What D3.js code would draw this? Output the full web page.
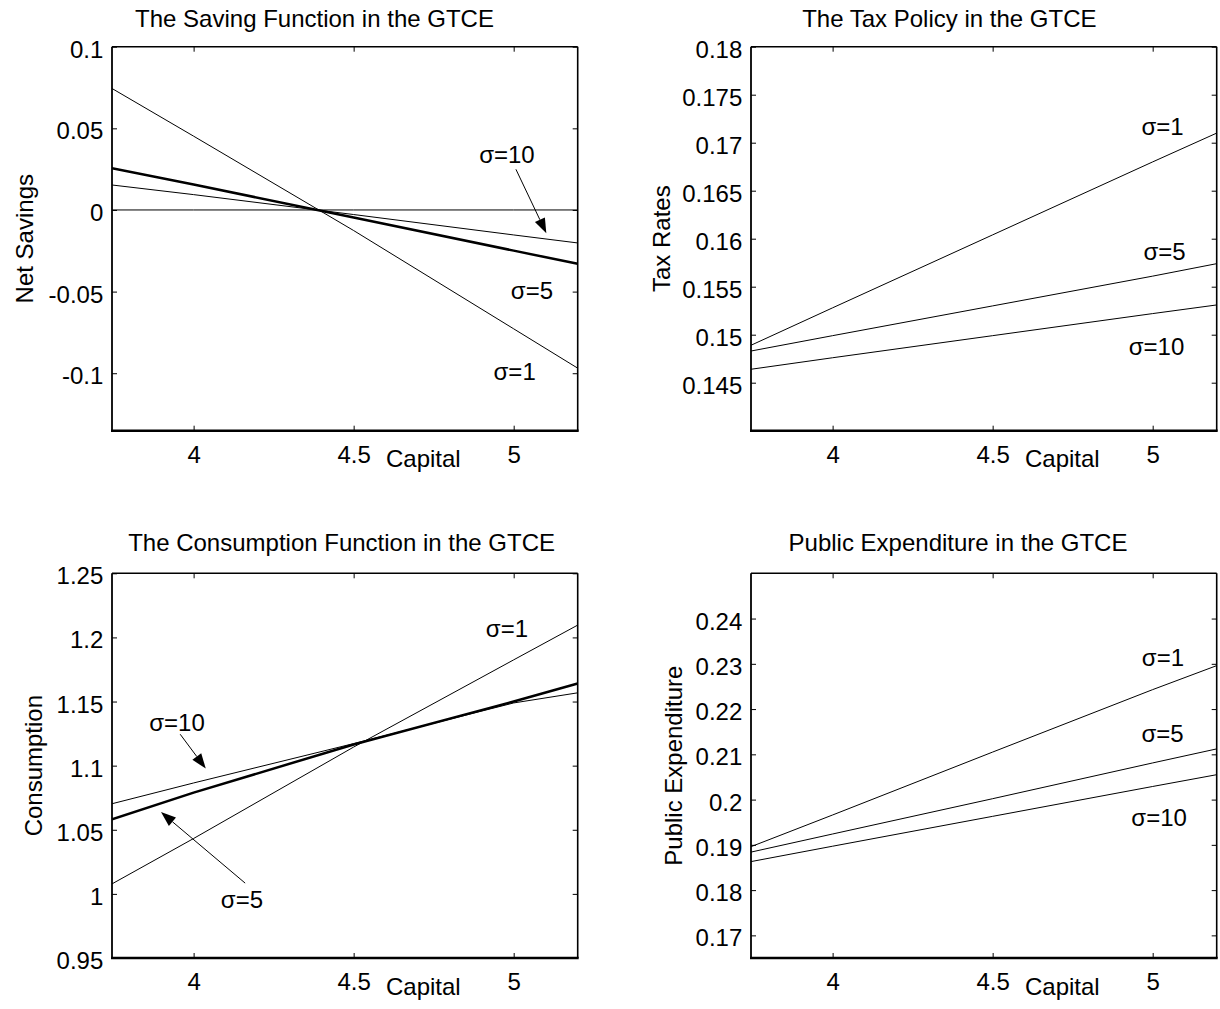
<!DOCTYPE html>
<html><head><meta charset="utf-8">
<script src="https://cdn.jsdelivr.net/npm/d3@7"></script>
<style>
body{margin:0;background:#fff}
svg{display:block}
text{font-family:"Liberation Sans",Arial,Helvetica,sans-serif;fill:#000}
</style>
</head><body>
<svg id="chart" width="1220" height="1009"></svg>
<script>
// ---------- data ----------
const capital = [3.745, 4.0, 4.5, 5.0, 5.2];
const xTicks = [4, 4.5, 5];
const xTickLabels = ["4", "4.5", "5"];

// Saving function
const savingZero    = [0, 0, 0, 0, 0];
const savingSigma1  = [0.0744, 0.0452, -0.0126, -0.0728, -0.0969];
const savingSigma5  = [0.0256, 0.0156, -0.0046, -0.0249, -0.0330];
const savingSigma10 = [0.0153, 0.0094, -0.0028, -0.0153, -0.0202];
const savingTicks = [-0.1, -0.05, 0, 0.05, 0.1];
const savingTickLabels = ["-0.1", "-0.05", "0", "0.05", "0.1"];

// Tax policy
const taxSigma1  = [0.1489, 0.1528, 0.1604, 0.1680, 0.1710];
const taxSigma5  = [0.1483, 0.1499, 0.1530, 0.1561, 0.1574];
const taxSigma10 = [0.1464, 0.1476, 0.1499, 0.1522, 0.1531];
const taxTicks = [0.145, 0.15, 0.155, 0.16, 0.165, 0.17, 0.175, 0.18];
const taxTickLabels = ["0.145", "0.15", "0.155", "0.16", "0.165", "0.17", "0.175", "0.18"];

// Consumption function
const consSigma1  = [1.0078, 1.0432, 1.1145, 1.1825, 1.2096];
const consSigma5  = [1.0581, 1.0790, 1.1165, 1.1500, 1.1641];
const consSigma10 = [1.0703, 1.0865, 1.1172, 1.1489, 1.1568];
const consTicks = [0.95, 1, 1.05, 1.1, 1.15, 1.2, 1.25];
const consTickLabels = ["0.95", "1", "1.05", "1.1", "1.15", "1.2", "1.25"];

// Public expenditure
const pubSigma1  = [0.1896, 0.1966, 0.2105, 0.2243, 0.2296];
const pubSigma5  = [0.1884, 0.1924, 0.2002, 0.2081, 0.2112];
const pubSigma10 = [0.1863, 0.1897, 0.1963, 0.2029, 0.2055];
const pubTicks = [0.17, 0.18, 0.19, 0.2, 0.21, 0.22, 0.23, 0.24];
const pubTickLabels = ["0.17", "0.18", "0.19", "0.2", "0.21", "0.22", "0.23", "0.24"];

const seriesNames = ["σ=1", "σ=5", "σ=10"];

// ---------- layout ----------
const FONT = 24;
const panels = [
  {
    left: 112, top: 46.7, width: 465.7, height: 384,
    xDomain: [3.745, 5.2], yDomain: [-0.1352, 0.1],
    yTicks: savingTicks, yTickLabels: savingTickLabels,
    title: "The Saving Function in the GTCE", titleX: 314.5, titleY: 27,
    ylabel: "Net Savings", ylabelX: 33,
    series: [
      {values: savingZero, w: 1},
      {values: savingSigma1, w: 1},
      {values: savingSigma10, w: 1},
      {values: savingSigma5, w: 2.5}
    ],
    labels: [
      {text: seriesNames[2], x: 4.979, y: 0.0343},
      {text: seriesNames[1], x: 5.057, y: -0.049},
      {text: seriesNames[0], x: 5.003, y: -0.099}
    ],
    arrows: [{from: [5.007, 0.0249], to: [5.102, -0.0143]}]
  },
  {
    left: 751, top: 46.7, width: 465.7, height: 384,
    xDomain: [3.745, 5.2], yDomain: [0.14, 0.18],
    yTicks: taxTicks, yTickLabels: taxTickLabels,
    title: "The Tax Policy in the GTCE", titleX: 949.3, titleY: 27,
    ylabel: "Tax Rates", ylabelX: 670,
    series: [
      {values: taxSigma1, w: 1},
      {values: taxSigma5, w: 1},
      {values: taxSigma10, w: 1}
    ],
    labels: [
      {text: seriesNames[0], x: 5.031, y: 0.1717},
      {text: seriesNames[1], x: 5.037, y: 0.1587},
      {text: seriesNames[2], x: 5.012, y: 0.1488}
    ],
    arrows: []
  },
  {
    left: 112, top: 573.3, width: 465.7, height: 384.7,
    xDomain: [3.745, 5.2], yDomain: [0.95, 1.25],
    yTicks: consTicks, yTickLabels: consTickLabels,
    title: "The Consumption Function in the GTCE", titleX: 341.6, titleY: 551,
    ylabel: "Consumption", ylabelX: 42,
    series: [
      {values: consSigma1, w: 1},
      {values: consSigma10, w: 1},
      {values: consSigma5, w: 2.5}
    ],
    labels: [
      {text: seriesNames[0], x: 4.979, y: 1.207},
      {text: seriesNames[2], x: 3.948, y: 1.1334},
      {text: seriesNames[1], x: 4.151, y: 0.9961}
    ],
    arrows: [
      {from: [3.958, 1.1245], to: [4.038, 1.0977]},
      {from: [4.161, 1.0084], to: [3.898, 1.0638]}
    ]
  },
  {
    left: 751, top: 573.3, width: 465.7, height: 384.7,
    xDomain: [3.745, 5.2], yDomain: [0.165, 0.25],
    yTicks: pubTicks, yTickLabels: pubTickLabels,
    title: "Public Expenditure in the GTCE", titleX: 958, titleY: 551,
    ylabel: "Public Expenditure", ylabelX: 682,
    series: [
      {values: pubSigma1, w: 1},
      {values: pubSigma5, w: 1},
      {values: pubSigma10, w: 1}
    ],
    labels: [
      {text: seriesNames[0], x: 5.032, y: 0.2315},
      {text: seriesNames[1], x: 5.031, y: 0.2146},
      {text: seriesNames[2], x: 5.020, y: 0.196}
    ],
    arrows: []
  }
];

const svg = d3.select("#chart");
svg.append("rect").attr("width", 1220).attr("height", 1009).attr("fill", "#fff");

panels.forEach(p => {
  const x = d3.scaleLinear().domain(p.xDomain).range([p.left, p.left + p.width]);
  const y = d3.scaleLinear().domain(p.yDomain).range([p.top + p.height, p.top]);
  const g = svg.append("g");

  const clipId = "clip" + Math.round(p.left) + "_" + Math.round(p.top);
  svg.append("clipPath").attr("id", clipId).append("rect")
    .attr("x", p.left).attr("y", p.top).attr("width", p.width).attr("height", p.height);

  // series lines
  const line = d3.line().x((d, i) => x(capital[i])).y(d => y(d));
  const lg = g.append("g").attr("clip-path", `url(#${clipId})`);
  p.series.forEach(s => {
    lg.append("path").datum(s.values).attr("d", line)
      .attr("fill", "none").attr("stroke", "#000").attr("stroke-width", s.w)
      .attr("stroke-linejoin", "round");
  });

  // axes (inward ticks on all four sides)
  const bottom = g.append("g").attr("transform", `translate(0,${p.top + p.height})`)
    .call(d3.axisBottom(x).tickValues(xTicks).tickSize(-5).tickPadding(14.8)
      .tickFormat((d, i) => xTickLabels[i]));
  const topAx = g.append("g").attr("transform", `translate(0,${p.top})`)
    .call(d3.axisTop(x).tickValues(xTicks).tickSize(-5).tickFormat(""));
  const leftAx = g.append("g").attr("transform", `translate(${p.left},0)`)
    .call(d3.axisLeft(y).tickValues(p.yTicks).tickSize(-5).tickPadding(8.7)
      .tickFormat((d, i) => p.yTickLabels[i]));
  const rightAx = g.append("g").attr("transform", `translate(${p.left + p.width},0)`)
    .call(d3.axisRight(y).tickValues(p.yTicks).tickSize(-5).tickFormat(""));
  [bottom, topAx, leftAx, rightAx].forEach(a => {
    a.select(".domain").remove();
    a.selectAll("line").attr("stroke", "#000").attr("stroke-width", 1);
    a.selectAll("text").attr("font-size", FONT).attr("font-family", '"Liberation Sans",Arial,sans-serif').attr("fill", "#000");
  });
  leftAx.selectAll("text").attr("dy", "0.44em");

  // frame
  const fr = g.append("g").attr("stroke", "#000").attr("fill", "none");
  fr.append("line").attr("x1", p.left).attr("x2", p.left + p.width).attr("y1", p.top).attr("y2", p.top).attr("stroke-width", 1.6);
  fr.append("line").attr("x1", p.left).attr("x2", p.left).attr("y1", p.top).attr("y2", p.top + p.height).attr("stroke-width", 1.8);
  fr.append("line").attr("x1", p.left + p.width).attr("x2", p.left + p.width).attr("y1", p.top).attr("y2", p.top + p.height).attr("stroke-width", 1.6);
  fr.append("line").attr("x1", p.left - 1).attr("x2", p.left + p.width + 1).attr("y1", p.top + p.height).attr("y2", p.top + p.height).attr("stroke-width", 2.6);

  // title
  g.append("text").attr("x", p.titleX).attr("y", p.titleY).attr("text-anchor", "middle")
    .attr("font-size", FONT).text(p.title);
  // y label
  g.append("text").attr("transform", `translate(${p.ylabelX},${p.top + p.height / 2}) rotate(-90)`)
    .attr("text-anchor", "middle").attr("font-size", FONT).text(p.ylabel);
  // x label
  g.append("text").attr("x", p.left + p.width / 2 + 78.5).attr("y", p.top + p.height + 36.5)
    .attr("text-anchor", "middle").attr("font-size", FONT).text("Capital");

  // series labels
  p.labels.forEach(l => {
    g.append("text").attr("x", x(l.x)).attr("y", y(l.y)).attr("dy", "0.36em")
      .attr("text-anchor", "middle").attr("font-size", FONT).text(l.text);
  });

  // arrows
  p.arrows.forEach(a => {
    const x1 = x(a.from[0]), y1 = y(a.from[1]), x2 = x(a.to[0]), y2 = y(a.to[1]);
    const ang = Math.atan2(y2 - y1, x2 - x1);
    const hl = 15, hw = 5.5;
    const bx = x2 - hl * Math.cos(ang), by = y2 - hl * Math.sin(ang);
    g.append("line").attr("x1", x1).attr("y1", y1).attr("x2", bx).attr("y2", by)
      .attr("stroke", "#000").attr("stroke-width", 1);
    const pts = [
      [x2, y2],
      [bx + hw * Math.sin(ang), by - hw * Math.cos(ang)],
      [bx - hw * Math.sin(ang), by + hw * Math.cos(ang)]
    ];
    g.append("polygon").attr("points", pts.map(q => q.join(",")).join(" ")).attr("fill", "#000");
  });
});
</script>
</body></html>
